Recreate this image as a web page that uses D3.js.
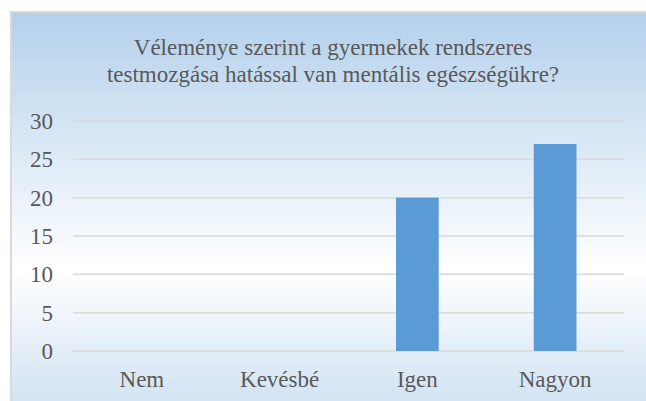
<!DOCTYPE html>
<html>
<head>
<meta charset="utf-8">
<script src="https://cdn.jsdelivr.net/npm/d3@7"></script>
<style>
  body { margin: 0; background: #fff; }
  svg { display: block; }
</style>
</head>
<body>
<svg id="chart"></svg>
<script>
var categories = ["Nem", "Kevésbé", "Igen", "Nagyon"];
var values = [0, 0, 20, 27];
var yTicks = [0, 5, 10, 15, 20, 25, 30];
var titleLines = ["Véleménye szerint a gyermekek rendszeres", "testmozgása hatással van mentális egészségükre?"];

var width = 646, height = 401;

// pick the first serif face that is really there
function hasFont(name){
    var ctx = document.createElement("canvas").getContext("2d");
    var probe = "Véleménye mmmwwlli 0123";
    ctx.font = "40px monospace";
    var a = ctx.measureText(probe).width;
    ctx.font = "40px '" + name + "', monospace";
    var b = ctx.measureText(probe).width;
    return a != b;
}
var candidates = ["Liberation Serif", "Times New Roman", "DejaVu Serif", "Noto Serif"];
var picked = candidates.filter(hasFont)[0] || "serif";
var fontSerif = "'" + picked + "', serif";
console.log("font:", picked);

var svg = d3.select("#chart").attr("width", width).attr("height", height);

// background gradient like the office chart style
var grad = svg.append("defs").append("linearGradient")
    .attr("id", "bg").attr("x1", 0).attr("y1", 0).attr("x2", 0).attr("y2", 1);
grad.append("stop").attr("offset", "0%").attr("stop-color", "#b3d0eb");
grad.append("stop").attr("offset", "66%").attr("stop-color", "#ffffff");
grad.append("stop").attr("offset", "100%").attr("stop-color", "#d2e3f3");

svg.append("rect")
    .attr("x", 11).attr("y", 12)
    .attr("width", width - 10).attr("height", height - 11)
    .attr("fill", "url(#bg)")
    .attr("stroke", "#d9d9d9").attr("stroke-width", 2);

var plotLeft = 73, plotRight = 624, plotTop = 121, plotBottom = 351;

var x = d3.scaleBand().domain(categories).range([plotLeft, plotRight]).paddingInner(0.69).paddingOuter(0.345);
var y = d3.scaleLinear().domain([0, 30]).range([plotBottom, plotTop]);

// gridlines
svg.append("g").selectAll("line")
    .data(yTicks)
    .enter().append("line")
    .attr("x1", plotLeft).attr("x2", plotRight)
    .attr("y1", function(d){ return y(d); })
    .attr("y2", function(d){ return y(d); })
    .attr("stroke", "#d9d9d9").attr("stroke-width", 1.5);

// y axis labels
var yAxis = svg.append("g")
    .attr("transform", "translate(" + 53 + ",0)")
    .call(d3.axisLeft(y).tickValues(yTicks).tickSize(0).tickPadding(0));
yAxis.attr("font-family", fontSerif).attr("font-size", 23);
yAxis.select(".domain").remove();
yAxis.selectAll("text")
    .attr("dy", "0.33em")
    .attr("fill", "#595959");

// bars
svg.append("g").selectAll("rect")
    .data(values)
    .enter().append("rect")
    .attr("x", function(d, i){ return x(categories[i]); })
    .attr("y", function(d){ return y(d); })
    .attr("width", x.bandwidth())
    .attr("height", function(d){ return plotBottom - y(d); })
    .attr("fill", "#5b9bd5");

// x axis labels
var xAxis = svg.append("g")
    .attr("transform", "translate(0," + 387 + ")")
    .call(d3.axisBottom(x).tickSize(0).tickPadding(0));
xAxis.attr("font-family", fontSerif).attr("font-size", 23);
xAxis.select(".domain").remove();
xAxis.selectAll("text")
    .attr("dy", 0)
    .attr("fill", "#595959");

// title
svg.append("text")
    .attr("text-anchor", "middle")
    .attr("font-family", fontSerif)
    .attr("font-size", 23)
    .attr("fill", "#595959")
    .selectAll("tspan")
    .data(titleLines)
    .enter().append("tspan")
    .attr("x", 333)
    .attr("y", function(d, i){ return 55 + i * 27; })
    .text(function(d){ return d; });
</script>
</body>
</html>
